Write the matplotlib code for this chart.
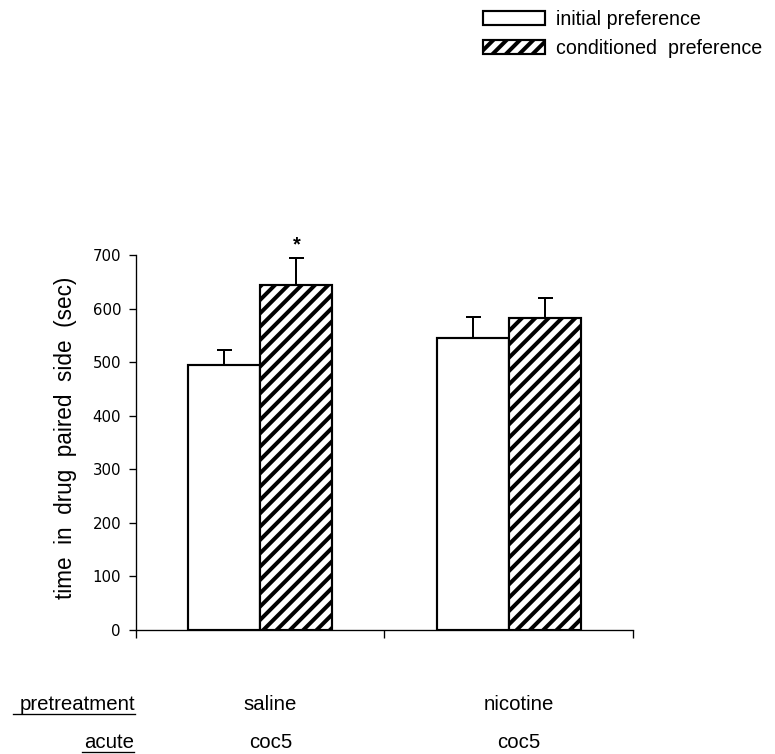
import matplotlib
matplotlib.use("Agg")
import matplotlib.pyplot as plt
from matplotlib.lines import Line2D
import numpy as np

plt.rcParams['font.family'] = ['Liberation Sans', 'DejaVu Sans']
plt.rcParams['hatch.linewidth'] = 2.4

groups = ["saline", "nicotine"]
acute = ["coc5", "coc5"]
series = ["initial preference", "conditioned  preference"]
initial_mean = [494, 545]
initial_sem = [29, 40]
conditioned_mean = [644, 582]
conditioned_sem = [50, 38]
yticks = [0, 100, 200, 300, 400, 500, 600, 700]

DPI = 120
W, H = 775, 754
fig = plt.figure(figsize=(W / DPI, H / DPI), dpi=DPI)
ax = fig.add_axes([136 / W, 1 - 630 / H, (633 - 136) / W, (630 - 255) / H])

x = np.arange(len(groups)) + 0.5
w = 0.29
b1 = ax.bar(x - w / 2, initial_mean, w, color='white', edgecolor='black', linewidth=1.3,
            label=series[0], zorder=2)
b2 = ax.bar(x + w / 2, conditioned_mean, w, color='white', edgecolor='black', linewidth=1.3,
            hatch='///', label=series[1], zorder=2)
ax.errorbar(x - w / 2, initial_mean, yerr=[np.zeros(2), initial_sem], fmt='none',
            ecolor='black', elinewidth=1.2, capsize=4.5, capthick=1.2, zorder=1)
ax.errorbar(x + w / 2, conditioned_mean, yerr=[np.zeros(2), conditioned_sem], fmt='none',
            ecolor='black', elinewidth=1.2, capsize=4.5, capthick=1.2, zorder=1)
ax.text(x[0] + w / 2, conditioned_mean[0] + conditioned_sem[0] + 8, '*', ha='center',
        va='bottom', fontsize=12, fontweight='bold')

ax.set_xlim(0, 2)
ax.set_ylim(0, 700)
ax.set_yticks(yticks)
ax.set_yticklabels([str(t) for t in yticks], fontsize=9, family='DejaVu Sans')
ax.set_xticks([0, 1, 2])
ax.set_xticklabels([])
ax.tick_params(axis='y', direction='out', length=4.2, width=0.8, pad=4.8)
ax.tick_params(axis='x', direction='out', length=5, width=0.8)
for s in ['top', 'right']:
    ax.spines[s].set_visible(False)
ax.spines['left'].set_linewidth(0.8)
ax.spines['bottom'].set_linewidth(0.8)
ax.set_ylabel('time  in  drug  paired  side  (sec)', fontsize=13.5)
ax.yaxis.set_label_coords(-0.118, 0.512)

leg = fig.legend(handles=[b1, b2], labels=series,
                 loc='upper left', bbox_to_anchor=(483 / W, 1 - 10 / H), frameon=False,
                 fontsize=11.8, handlelength=3.15, handleheight=0.66, handletextpad=0.56,
                 labelspacing=0.5, borderaxespad=0, borderpad=0)

# bottom labels
fs = 12.2
fig.text(135 / W, 1 - 704 / H, 'pretreatment', ha='right', va='center', fontsize=fs)
fig.text(134 / W, 1 - 743 / H, 'acute', ha='right', va='center', fontsize=fs)
for xi, g, a in zip(x, groups, acute):
    xf = fig.transFigure.inverted().transform(ax.transData.transform((xi, 0)))[0] + 10 / W
    fig.text(xf, 1 - 704 / H, g, ha='center', va='center', fontsize=fs)
    fig.text(xf, 1 - 743 / H, a, ha='center', va='center', fontsize=fs)
fig.add_artist(Line2D([13 / W, 135 / W], [1 - 714 / H] * 2, color='black', lw=0.8))
fig.add_artist(Line2D([82 / W, 134 / W], [1 - 751.5 / H] * 2, color='black', lw=0.8))

fig.savefig('out.png', dpi=DPI)
